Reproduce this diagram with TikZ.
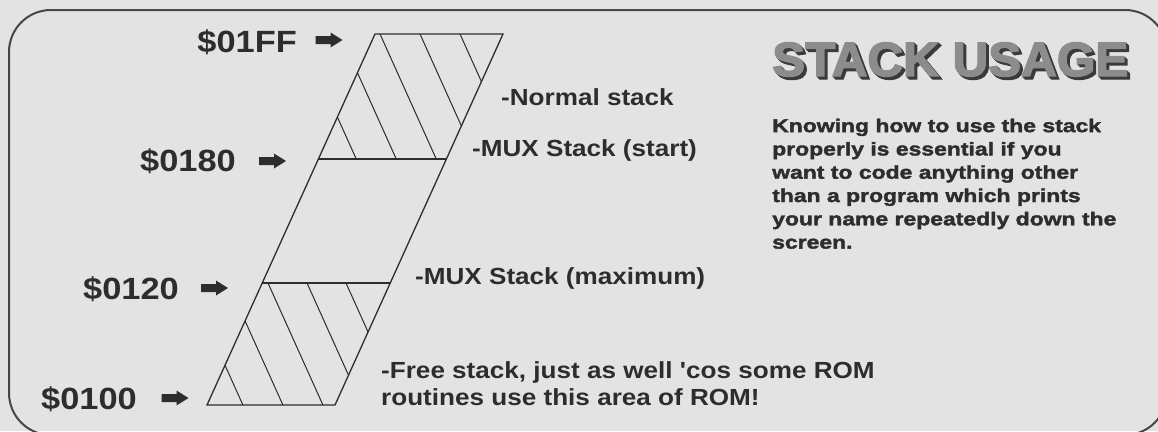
\documentclass[tikz,border=0pt]{standalone}
\usepackage{fontspec}
\setmainfont{Liberation Sans}
\newfontfamily\addrfont[FakeStretch=1.12]{Liberation Sans Bold}
\newfontfamily\notefont[FakeStretch=1.12]{Liberation Sans Bold}
\newfontfamily\bodyfont[FakeStretch=1.24,FakeBold=2]{Liberation Sans Bold}
\newfontfamily\headfont[FakeBold=3,FakeStretch=1.03]{Liberation Sans Bold}

\definecolor{paper}{RGB}{227,227,227}
\definecolor{ink}{RGB}{45,45,45}
\definecolor{frameink}{RGB}{70,70,70}
\definecolor{headgray}{RGB}{140,140,140}
\definecolor{headshade}{RGB}{58,58,58}

% heading text drawn over a dark drop shadow
\newcommand{\shadowed}[1]{%
  \rlap{\color{headshade}\hspace{3pt}\raisebox{-3pt}{#1}}%
  \rlap{\color{headshade}\hspace{2pt}\raisebox{-2pt}{#1}}%
  \rlap{\color{headshade}\hspace{1pt}\raisebox{-1pt}{#1}}%
  {\color{headgray}#1}}

\begin{document}
\begin{tikzpicture}[x=1pt,y=-1pt,
  addr/.style={font=\addrfont\fontsize{30.7}{36}\selectfont, text=ink, inner sep=0pt, anchor=base east},
  note/.style={font=\notefont\fontsize{23.3}{27}\selectfont, text=ink, inner sep=0pt, anchor=base west},
  body/.style={font=\bodyfont\fontsize{18.5}{23.3}\selectfont, text=ink, inner sep=0pt, align=left, anchor=north west},
  head/.style={font=\headfont\fontsize{48}{56}\selectfont, inner sep=0pt, anchor=base west},
  pics/pointer/.style={code={%
    \fill[ink] (-13.5,-4) -- (1.5,-4) -- (1.5,-7.5) -- (13.5,0) -- (1.5,7.5)
      -- (1.5,4) -- (-13.5,4) -- cycle;}},
  outline/.style={draw=ink, line width=1.3pt, line join=miter},
  hatch/.style={draw=ink, line width=1pt}
]
% page and frame
\path[use as bounding box, fill=paper] (0,0) rectangle (1158,431);
\draw[line width=2pt, draw=frameink, rounded corners=42pt] (9,10) rectangle (1167,435);

% corners of the stack page and the two section boundaries
\coordinate (bl) at (207,405);
\coordinate (br) at (335,405);
\coordinate (tr) at (503,34);
\coordinate (tl) at (375,34);
\coordinate (s180l) at (318.4,159);
\coordinate (s180r) at (446.4,159);
\coordinate (s120l) at (262.3,283);
\coordinate (s120r) at (390.3,283);

% hatched part above $0180
\begin{scope}
  \clip (tl) -- (tr) -- (s180r) -- (s180l) -- cycle;
  \foreach \x in {300,340,380,420,460}
    \draw[hatch] ({\x-9},14) -- ({\x+65.25},179);
\end{scope}
% hatched part below $0120
\begin{scope}
  \clip (s120l) -- (s120r) -- (br) -- (bl) -- cycle;
  \foreach \x in {188,228,268,307,346}
    \draw[hatch] ({\x-9},263) -- ({\x+65.25},428);
\end{scope}

% outline of the stack page
\draw[outline] (bl) -- (br) -- (tr) -- (tl) -- cycle;
\draw[outline] (s180l) -- (s180r);
\draw[outline] (s120l) -- (s120r);

% addresses with their pointers
\node[addr] (a1ff) at (297,52) {\$01FF};
\node[addr] (a180) at (236,171) {\$0180};
\node[addr] (a120) at (179,299) {\$0120};
\node[addr] (a100) at (137,409) {\$0100};
\pic (p1ff) at (329,40) {pointer};
\pic (p180) at (272.5,161) {pointer};
\pic (p120) at (214.5,288) {pointer};
\pic (p100) at (175,398) {pointer};

% region notes
\node[note] (nnormal) at (501,105) {-Normal stack};
\node[note] (nstart) at (472,156) {-MUX Stack (start)};
\node[note] (nmax) at (415,284) {-MUX Stack (maximum)};
\node[note] (nfree) at (381,378) {-Free stack, just as well 'cos some ROM};
\node[note] (nfree2) at (381,405) {routines use this area of ROM!};

% heading
\node[head] (heading) at (772,76) {\shadowed{STACK USAGE}};

% side text
\node[body] (blurb) at (772,118.5) {Knowing how to use the stack\\
properly is essential if you\\
want to code anything other\\
than a program which prints\\
your name repeatedly down the\\
screen.};
\end{tikzpicture}
\end{document}
